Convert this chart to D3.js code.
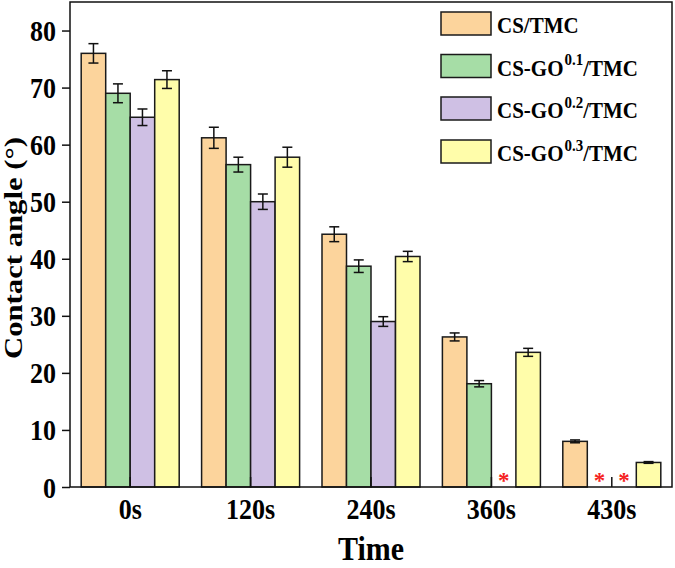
<!DOCTYPE html>
<html>
<head>
<meta charset="utf-8">
<script src="https://cdn.jsdelivr.net/npm/d3@7"></script>
<style>
  html, body { margin: 0; padding: 0; background: #fff; }
  svg { display: block; }
  text { font-family: "Liberation Serif", "Times New Roman", serif; font-weight: bold; fill: #000; }
</style>
</head>
<body>
<svg id="chart" width="675" height="568"></svg>
<script>
// ---- data ----
const categories = ["0s", "120s", "240s", "360s", "430s"];
const seriesKeys = ["cs", "go1", "go2", "go3"];
const seriesMain = ["CS/TMC", "CS-GO", "CS-GO", "CS-GO"];
const seriesSup  = ["", "0.1", "0.2", "0.3"];
const seriesTail = ["", "/TMC", "/TMC", "/TMC"];
const seriesColors = ["#FCD49C", "#A6DDA6", "#CFC0E4", "#FFFDAA"];

// null = not measurable (marked with red asterisk)
const csValues  = [76.0, 61.2, 44.3, 26.3, 8.0];
const go1Values = [69.0, 56.5, 38.7, 18.1, null];
const go2Values = [64.8, 50.0, 29.0, null, null];
const go3Values = [71.4, 57.8, 40.4, 23.6, 4.3];

const csErr  = [1.7, 1.85, 1.3, 0.7, 0.25];
const go1Err = [1.65, 1.3, 1.1, 0.55, 0];
const go2Err = [1.45, 1.35, 0.85, 0, 0];
const go3Err = [1.55, 1.75, 0.9, 0.7, 0.15];

const yTicks = [0, 10, 20, 30, 40, 50, 60, 70, 80];
const yDomain = [0, 85];
const xTitle = "Time";
const yTitle = "Contact angle (°)";

const valuesBySeries = [csValues, go1Values, go2Values, go3Values];
const errBySeries = [csErr, go1Err, go2Err, go3Err];

// ---- layout ----
const svg = d3.select("#chart");
const plot = { left: 70, right: 672, top: 2, bottom: 487 };
const vs = 1.12; // vertical text stretch of the reference

const x0 = d3.scaleBand().domain(categories)
  .range([plot.left, plot.right]).paddingInner(0.186).paddingOuter(0.093);
const x1 = d3.scaleBand().domain(seriesKeys).range([0, x0.bandwidth()]).padding(0);
const y = d3.scaleLinear().domain(yDomain).range([plot.bottom, plot.top]);

const rows = [];
categories.forEach((c, ci) => {
  seriesKeys.forEach((k, si) => {
    rows.push({ cat: c, key: k, si, v: valuesBySeries[si][ci], e: errBySeries[si][ci] });
  });
});

// bars
const g = svg.append("g");
g.selectAll("rect.bar").data(rows.filter(d => d.v !== null)).join("rect")
  .attr("class", "bar")
  .attr("x", d => x0(d.cat) + x1(d.key))
  .attr("width", x1.bandwidth())
  .attr("y", d => y(d.v))
  .attr("height", d => y(0) - y(d.v))
  .attr("fill", d => seriesColors[d.si])
  .attr("stroke", "#1a1a1a")
  .attr("stroke-width", 1.5);

// error bars
const eb = g.selectAll("g.err").data(rows.filter(d => d.v !== null && d.e > 0)).join("g").attr("class", "err")
  .attr("stroke", "#111").attr("stroke-width", 1.5);
const cx = d => x0(d.cat) + x1(d.key) + x1.bandwidth() / 2;
eb.append("line").attr("x1", cx).attr("x2", cx).attr("y1", d => y(d.v - d.e)).attr("y2", d => y(d.v + d.e));
eb.append("line").attr("x1", d => cx(d) - 5).attr("x2", d => cx(d) + 5).attr("y1", d => y(d.v + d.e)).attr("y2", d => y(d.v + d.e));
eb.append("line").attr("x1", d => cx(d) - 5).attr("x2", d => cx(d) + 5).attr("y1", d => y(d.v - d.e)).attr("y2", d => y(d.v - d.e));

// asterisks for missing values
g.selectAll("text.star").data(rows.filter(d => d.v === null)).join("text")
  .attr("class", "star")
  .attr("x", cx).attr("y", y(0) + 1)
  .attr("text-anchor", "middle")
  .style("font-size", "23px")
  .style("fill", "#F52222")
  .text("*");

// frame
svg.append("rect")
  .attr("x", plot.left).attr("y", plot.top)
  .attr("width", plot.right - plot.left).attr("height", plot.bottom - plot.top)
  .attr("fill", "none").attr("stroke", "#111").attr("stroke-width", 1.5);

// y axis
const yAxis = svg.append("g").attr("transform", `translate(${plot.left},0)`)
  .call(d3.axisLeft(y).tickValues(yTicks).tickSize(8).tickPadding(6).tickFormat(d3.format("d")));
yAxis.select(".domain").remove();
yAxis.selectAll(".tick line").attr("stroke", "#111").attr("stroke-width", 1.5);
yAxis.selectAll(".tick text")
  .style("font-size", "26px")
  .attr("dy", null)
  .attr("y", 0)
  .attr("dominant-baseline", "central")
  .attr("transform", `scale(1,${vs})`);

// x axis (inward ticks at group centres)
const xAxis = svg.append("g").attr("transform", `translate(0,${plot.bottom})`)
  .call(d3.axisBottom(x0).tickSize(-10).tickPadding(0));
xAxis.select(".domain").remove();
xAxis.selectAll(".tick line").attr("stroke", "#111").attr("stroke-width", 1.5);
xAxis.selectAll(".tick text")
  .style("font-size", "26px")
  .attr("dy", null)
  .attr("y", 0)
  .attr("transform", `translate(0,32) scale(1,${vs})`);

// axis titles
svg.append("text")
  .attr("text-anchor", "middle")
  .attr("transform", `translate(${(plot.left + plot.right) / 2},560) scale(1,${vs})`)
  .style("font-size", "30px")
  .text(xTitle);

svg.append("text")
  .attr("text-anchor", "middle")
  .attr("transform", `translate(22,248) rotate(-90)`)
  .attr("textLength", 222)
  .attr("lengthAdjust", "spacingAndGlyphs")
  .style("font-size", "25px")
  .text(yTitle);

// legend
const legY = [12, 54.5, 97, 140];
const leg = svg.append("g");
seriesKeys.forEach((k, i) => {
  leg.append("rect")
    .attr("x", 441).attr("y", legY[i]).attr("width", 50).attr("height", 23)
    .attr("fill", seriesColors[i]).attr("stroke", "#1a1a1a").attr("stroke-width", 1.5);
  const t = leg.append("text")
    .attr("transform", `translate(497,${legY[i] + 21}) scale(1,${vs})`)
    .style("font-size", "21px");
  t.append("tspan").text(seriesMain[i]);
  if (seriesSup[i]) {
    t.append("tspan").attr("dy", -9).attr("dx", 1).style("font-size", "15px").text(seriesSup[i]);
    t.append("tspan").attr("dy", 9).text(seriesTail[i]);
  }
});
</script>
</body>
</html>
